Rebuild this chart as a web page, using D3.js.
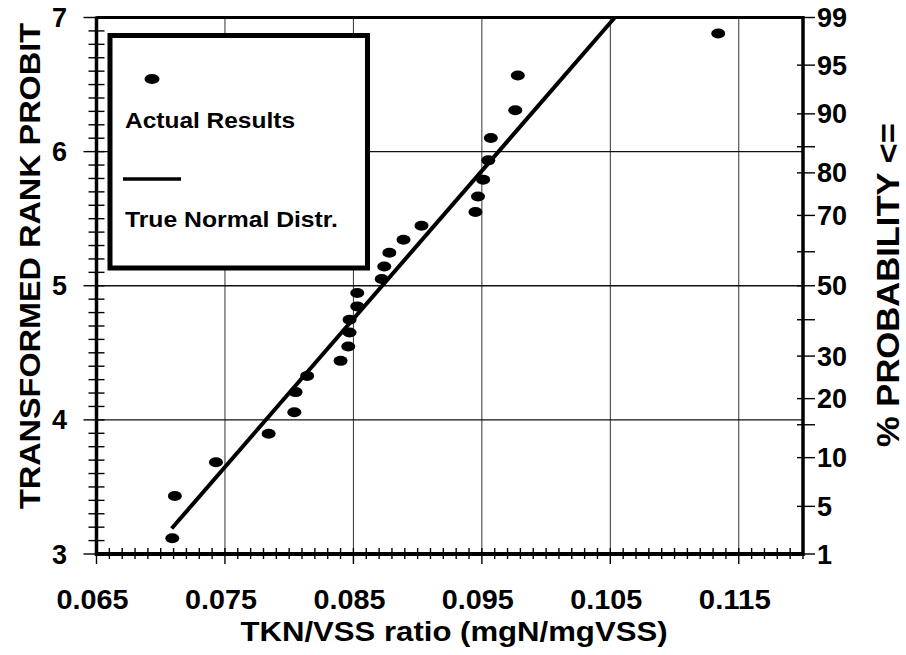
<!DOCTYPE html>
<html>
<head>
<meta charset="utf-8">
<script src="https://cdn.jsdelivr.net/npm/d3@7"></script>
<style>
  html, body { margin: 0; padding: 0; background: #fff; }
  svg { display: block; font-family: "Liberation Sans", Arial, sans-serif; font-weight: bold; }
</style>
</head>
<body>
<svg id="chart" width="906" height="655"></svg>
<script>
// TKN/VSS ratio of each sample and its transformed rank probit
const tknRatio = [0.0709, 0.0711, 0.0743, 0.0784, 0.0804, 0.0805, 0.0814, 0.0840, 0.0846, 0.0847,
                  0.0847, 0.0853, 0.0853, 0.0872, 0.0874, 0.0878, 0.0889, 0.0903, 0.0945, 0.0947,
                  0.0951, 0.0955, 0.0957, 0.0976, 0.0978, 0.1134];
const rankProbit = [3.117, 3.433, 3.684, 3.896, 4.057, 4.207, 4.328, 4.440, 4.547, 4.651,
                    4.746, 4.846, 4.946, 5.050, 5.144, 5.246, 5.343, 5.448, 5.550, 5.666,
                    5.791, 5.935, 6.102, 6.308, 6.567, 6.881];

// True normal distribution line (end points)
const normalX = [0.07085, 0.10535];
const normalProbit = [3.19, 7.0];

// Axis ticks
const xTickValues = [0.065, 0.075, 0.085, 0.095, 0.105, 0.115];
const xTickLabels = ["0.065", "0.075", "0.085", "0.095", "0.105", "0.115"];
const xGridValues = [0.075, 0.085, 0.095, 0.105, 0.115];
const yTickValues = [3, 4, 5, 6, 7];
const yGridValues = [4, 5, 6];
const probTicks  = [1, 5, 10, 15, 20, 30, 40, 50, 60, 70, 80, 85, 90, 95, 99];
const probLabels = ["1", "5", "10", "", "20", "30", "", "50", "", "70", "80", "", "90", "95", "99"];

// Inverse standard normal CDF (Acklam)
function normInv(p) {
  const a = [-3.969683028665376e+01, 2.209460984245205e+02, -2.759285104469687e+02,
             1.383577518672690e+02, -3.066479806614716e+01, 2.506628277459239e+00];
  const b = [-5.447609879822406e+01, 1.615858368580409e+02, -1.556989798598866e+02,
             6.680131188771972e+01, -1.328068155288572e+01];
  const c = [-7.784894002430293e-03, -3.223964580411365e-01, -2.400758277161838e+00,
             -2.549732539343734e+00, 4.374664141464968e+00, 2.938163982698783e+00];
  const d = [7.784695709041462e-03, 3.224671290700398e-01, 2.445134137142996e+00,
             3.754408661907416e+00];
  const pl = 0.02425;
  let q, r;
  if (p < pl) {
    q = Math.sqrt(-2 * Math.log(p));
    return (((((c[0]*q+c[1])*q+c[2])*q+c[3])*q+c[4])*q+c[5]) / ((((d[0]*q+d[1])*q+d[2])*q+d[3])*q+1);
  } else if (p <= 1 - pl) {
    q = p - 0.5; r = q * q;
    return (((((a[0]*r+a[1])*r+a[2])*r+a[3])*r+a[4])*r+a[5])*q / (((((b[0]*r+b[1])*r+b[2])*r+b[3])*r+b[4])*r+1);
  } else {
    q = Math.sqrt(-2 * Math.log(1 - p));
    return -(((((c[0]*q+c[1])*q+c[2])*q+c[3])*q+c[4])*q+c[5]) / ((((d[0]*q+d[1])*q+d[2])*q+d[3])*q+1);
  }
}

const svg = d3.select("#chart");
const x = d3.scaleLinear().domain([0.065, 0.12]).range([96.5, 803]);
const y = d3.scaleLinear().domain([3, 7]).range([554, 17.5]);
const probitOf = p => Math.max(3, Math.min(7, 5 + normInv(p / 100)));

svg.append("rect").attr("width", 906).attr("height", 655).attr("fill", "#fff");

// Grid
const grid = svg.append("g").attr("stroke", "#333").attr("stroke-width", 1);
grid.selectAll("line.gx").data(xGridValues).join("line").attr("class", "gx")
  .attr("x1", d => x(d)).attr("x2", d => x(d)).attr("y1", y(7)).attr("y2", y(3));
grid.selectAll("line.gy").data(yGridValues).join("line").attr("class", "gy")
  .attr("x1", x(0.065)).attr("x2", x(0.12)).attr("y1", d => y(d)).attr("y2", d => y(d))
  .attr("stroke", "#111").attr("stroke-width", 1.3);

// Minor ticks on the bottom and left axes (crossing the axis line)
const xMinor = d3.range(0, 56).map(i => +(0.065 + i * 0.001).toFixed(3));
const yMinor = d3.range(0, 41).map(i => +(3 + i * 0.1).toFixed(1));
const ticks = svg.append("g").attr("stroke", "#000").attr("stroke-width", 1.4);
ticks.selectAll("line.tx").data(xMinor).join("line").attr("class", "tx")
  .attr("x1", d => x(d)).attr("x2", d => x(d))
  .attr("y1", y(3) - 6)
  .attr("y2", d => xTickValues.some(v => Math.abs(v - d) < 1e-9) ? y(3) + 10 : y(3) + 5);
ticks.selectAll("line.ty").data(yMinor).join("line").attr("class", "ty")
  .attr("y1", d => y(d)).attr("y2", d => y(d))
  .attr("x1", d => Number.isInteger(d) ? x(0.065) - 13 : x(0.065) - 8)
  .attr("x2", x(0.065) + 8);

// Right probability ticks
ticks.selectAll("line.tp").data(probTicks).join("line").attr("class", "tp")
  .attr("x1", x(0.12) - 6).attr("x2", x(0.12) + 12)
  .attr("y1", d => y(probitOf(d))).attr("y2", d => y(probitOf(d)));

// Frame: thick axes on all four sides
const frame = svg.append("g").attr("stroke", "#000").attr("fill", "none");
frame.append("line").attr("x1", x(0.065)).attr("x2", x(0.12)).attr("y1", y(3)).attr("y2", y(3)).attr("stroke-width", 4);
frame.append("line").attr("x1", x(0.065)).attr("x2", x(0.065)).attr("y1", y(3) + 2).attr("y2", y(7) - 1).attr("stroke-width", 3.5);
frame.append("line").attr("x1", x(0.065)).attr("x2", x(0.12)).attr("y1", y(7)).attr("y2", y(7)).attr("stroke-width", 3);
frame.append("line").attr("x1", x(0.12)).attr("x2", x(0.12)).attr("y1", y(3) + 2).attr("y2", y(7) - 1.5).attr("stroke-width", 3.5);

// Tick labels
svg.append("g").selectAll("text").data(xTickValues).join("text")
  .attr("x", d => x(d) - 4).attr("y", 609)
  .attr("text-anchor", "middle").attr("font-size", 27)
  .attr("textLength", 72).attr("lengthAdjust", "spacingAndGlyphs")
  .text((d, i) => xTickLabels[i]);

svg.append("g").selectAll("text").data(yTickValues).join("text")
  .attr("x", 67).attr("y", d => y(d) + 9.5)
  .attr("text-anchor", "end").attr("font-size", 27)
  .text(d => d);

svg.append("g").selectAll("text").data(probTicks).join("text")
  .attr("x", 817).attr("y", d => y(probitOf(d)) + 9.5)
  .attr("font-size", 27)
  .text((d, i) => probLabels[i]);

// Axis titles
svg.append("text").attr("x", 454).attr("y", 641).attr("text-anchor", "middle")
  .attr("font-size", 28).attr("textLength", 427).attr("lengthAdjust", "spacingAndGlyphs")
  .text("TKN/VSS ratio (mgN/mgVSS)");

svg.append("text").attr("transform", "translate(40,266) rotate(-90)")
  .attr("text-anchor", "middle").attr("font-size", 30)
  .attr("textLength", 486).attr("lengthAdjust", "spacingAndGlyphs")
  .text("TRANSFORMED RANK PROBIT");

svg.append("text").attr("transform", "translate(899,285) rotate(-90)")
  .attr("text-anchor", "middle").attr("font-size", 32)
  .attr("textLength", 324).attr("lengthAdjust", "spacingAndGlyphs")
  .text("% PROBABILITY <=");

// True normal distribution line
svg.append("line")
  .attr("x1", x(normalX[0])).attr("y1", y(normalProbit[0]))
  .attr("x2", x(normalX[1])).attr("y2", y(normalProbit[1]))
  .attr("stroke", "#000").attr("stroke-width", 4);

// Actual results
svg.append("g").selectAll("ellipse").data(tknRatio).join("ellipse")
  .attr("cx", d => x(d)).attr("cy", (d, i) => y(rankProbit[i]))
  .attr("rx", 7).attr("ry", 5).attr("fill", "#000");

// Legend
const legend = svg.append("g");
legend.append("rect").attr("x", 110).attr("y", 35.5).attr("width", 257.5).attr("height", 232.5)
  .attr("fill", "#fff").attr("stroke", "#000").attr("stroke-width", 5);
legend.append("ellipse").attr("cx", 152).attr("cy", 79).attr("rx", 7.5).attr("ry", 5).attr("fill", "#000");
legend.append("text").attr("x", 125).attr("y", 128).attr("font-size", 22)
  .attr("textLength", 170).attr("lengthAdjust", "spacingAndGlyphs").text("Actual Results");
legend.append("line").attr("x1", 123).attr("x2", 181).attr("y1", 179).attr("y2", 179)
  .attr("stroke", "#000").attr("stroke-width", 3.5);
legend.append("text").attr("x", 125).attr("y", 227).attr("font-size", 22)
  .attr("textLength", 213).attr("lengthAdjust", "spacingAndGlyphs").text("True Normal Distr.");
</script>
</body>
</html>
